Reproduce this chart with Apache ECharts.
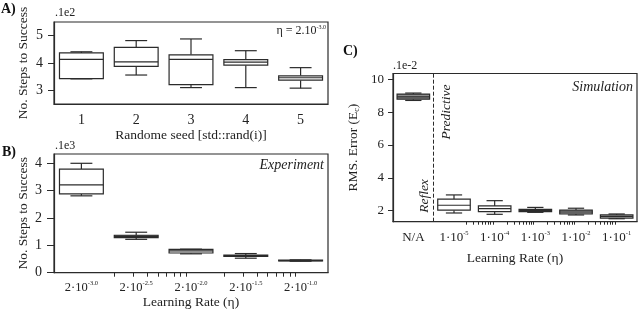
<!DOCTYPE html>
<html><head><meta charset="utf-8">
<script src="https://cdn.jsdelivr.net/npm/echarts@6/dist/echarts.min.js"></script>
<style>html,body{margin:0;padding:0;background:#fff}#c{width:640px;height:315px}</style>
</head><body><div id="c"></div>
<script>
// ---------- Panel A : random seed ----------
const seedLabels = ['1', '2', '3', '4', '5'];
const seedMin = [3.42, 3.56, 3.10, 3.10, 3.08];
const seedQ1  = [3.43, 3.88, 3.21, 3.92, 3.37];
const seedMed = [4.13, 4.04, 4.13, 4.03, 3.46];
const seedQ3  = [4.37, 4.57, 4.30, 4.12, 3.53];
const seedMax = [4.41, 4.82, 4.88, 4.45, 3.83];
const aYTicks = [3, 4, 5];
const aFill = ['#fff', '#fff', '#fff', '#fff', '#fff'];

// ---------- Panel B : experiment ----------
const expExponents = ['-3.0', '-2.5', '-2.0', '-1.5', '-1.0'];
const expMin = [2.81, 1.22, 0.69, 0.53, 0.42];
const expQ1  = [2.88, 1.28, 0.72, 0.60, 0.43];
const expMed = [3.21, 1.32, 0.80, 0.62, 0.44];
const expQ3  = [3.79, 1.37, 0.85, 0.64, 0.46];
const expMax = [4.00, 1.48, 0.86, 0.70, 0.47];
const bYTicks = [0, 1, 2, 3, 4];
const bMinorEta = [0.004, 0.006, 0.008, 0.010, 0.012, 0.014, 0.016, 0.018,
                   0.04, 0.06, 0.08, 0.10, 0.12, 0.14, 0.16, 0.18];
const bFirstEta = 0.002;
const bFill = ['#fff', '#444', '#f4f4f4', '#fff', '#fff'];

// ---------- Panel C : simulation ----------
const simLabels = ['N/A', '-5', '-4', '-3', '-2', '-1'];
const simMin = [8.71, 1.86, 1.78, 1.90, 1.74, 1.51];
const simQ1  = [8.79, 2.03, 1.94, 1.94, 1.80, 1.55];
const simMed = [8.93, 2.33, 2.12, 2.00, 1.92, 1.65];
const simQ3  = [9.10, 2.70, 2.29, 2.08, 2.04, 1.74];
const simMax = [9.16, 2.96, 2.61, 2.20, 2.15, 1.80];
const cYTicks = [2, 4, 6, 8, 10];
const cMinorDecades = [-5, -4, -3, -2];
const cMinorMult = [2, 3, 4, 5, 6, 7, 8, 9];
const cFill = ['#8c8c8c', '#fff', '#fff', '#d8d8d8', '#9a9a9a', '#d0d0d0'];

const FONT = 'Liberation Serif';
const FQ = '"Liberation Serif", serif';
const INK = '#222';
const LINE = '#2b2b2b';

function rows(mn, q1, md, q3, mx) {
  return mn.map((v, i) => [i, v, q1[i], md[i], q3[i], mx[i]]);
}

function boxRenderer(fills) {
  return function (params, api) {
    const i = api.value(0);
    const pMin = api.coord([i, api.value(1)]);
    const pQ1 = api.coord([i, api.value(2)]);
    const pMed = api.coord([i, api.value(3)]);
    const pQ3 = api.coord([i, api.value(4)]);
    const pMax = api.coord([i, api.value(5)]);
    const band = api.size([1, 0])[0];
    const bw = band * 0.8, cw = bw * 0.5;
    const x = pMed[0];
    const ls = { stroke: LINE, lineWidth: 1.2 };
    return {
      type: 'group', children: [
        { type: 'line', shape: { x1: x, y1: pMax[1], x2: x, y2: pQ3[1] }, style: ls },
        { type: 'line', shape: { x1: x, y1: pQ1[1], x2: x, y2: pMin[1] }, style: ls },
        { type: 'line', shape: { x1: x - cw / 2, y1: pMax[1], x2: x + cw / 2, y2: pMax[1] }, style: ls },
        { type: 'line', shape: { x1: x - cw / 2, y1: pMin[1], x2: x + cw / 2, y2: pMin[1] }, style: ls },
        { type: 'rect', shape: { x: x - bw / 2, y: pQ3[1], width: bw, height: pQ1[1] - pQ3[1] },
          style: { fill: fills[params.dataIndex], stroke: LINE, lineWidth: 1.2 } },
        { type: 'line', shape: { x1: x - bw / 2, y1: pMed[1], x2: x + bw / 2, y2: pMed[1] }, style: ls }
      ]
    };
  };
}

const axisLine = { show: true, lineStyle: { color: LINE, width: 1.2 } };
const nameStyle = { fontFamily: FONT, fontSize: 13.5, color: INK };
const numLabel = (size) => ({
  formatter: v => '{t|' + v + '}',
  rich: { t: { fontFamily: FONT, fontSize: size, color: INK } }
});

const bMinorPos = bMinorEta.map(v => Math.log10(v));
const bC0 = Math.log10(bFirstEta);
const cMinorPos = [];
cMinorDecades.forEach(d => cMinorMult.forEach(m => cMinorPos.push(d + Math.log10(m))));

const option = {
  animation: false,
  backgroundColor: '#fff',
  textStyle: { fontFamily: FONT, color: INK },
  grid: [
    { left: 54, top: 22, width: 274, height: 82, show: true, borderColor: LINE, borderWidth: 1.2 },
    { left: 54, top: 154, width: 274, height: 118.7, show: true, borderColor: LINE, borderWidth: 1.2 },
    { left: 393, top: 73.5, width: 244, height: 148.2, show: true, borderColor: LINE, borderWidth: 1.2 }
  ],
  xAxis: [
    { gridIndex: 0, type: 'category', data: seedLabels, position: 'bottom',
      axisLine, axisTick: { alignWithLabel: true, length: 6, lineStyle: { color: LINE } },
      axisLabel: Object.assign({ interval: 0, margin: 9 }, numLabel(14)),
      name: 'Randome seed [std::rand(i)]', nameLocation: 'middle', nameGap: 24, nameTextStyle: nameStyle },
    { gridIndex: 1, type: 'category', data: expExponents, position: 'bottom',
      axisLine, axisTick: { interval: 0, alignWithLabel: true, length: 6, lineStyle: { color: LINE } },
      axisLabel: { interval: 0, margin: 7, formatter: v => '{b|2·10}{s|' + v + '}',
        rich: { b: { fontFamily: FONT, fontSize: 12.5, color: INK, lineHeight: 16 },
                s: { fontFamily: FONT, fontSize: 6.5, color: INK, lineHeight: 8, verticalAlign: 'top' } } },
      name: 'Learning Rate (η)', nameLocation: 'middle', nameGap: 21, nameTextStyle: nameStyle },
    { gridIndex: 2, type: 'category', data: simLabels, position: 'bottom',
      axisLine, axisTick: { interval: 0, alignWithLabel: true, length: 5, lineStyle: { color: LINE } },
      axisLabel: { interval: 0, margin: 8, formatter: v => v === 'N/A' ? '{b|N/A}' : '{b|1·10}{s|' + v + '}',
        rich: { b: { fontFamily: FONT, fontSize: 13, color: INK, lineHeight: 16 },
                s: { fontFamily: FONT, fontSize: 6.5, color: INK, lineHeight: 8, verticalAlign: 'top' } } },
      name: 'Learning Rate (η)', nameLocation: 'middle', nameGap: 30, nameTextStyle: nameStyle },
    // minor tick overlays
    { gridIndex: 1, type: 'value', position: 'bottom', min: bC0 - 0.25, max: bC0 + 2.25,
      axisLine: { show: false }, splitLine: { show: false }, axisLabel: { show: false },
      axisTick: { show: true, customValues: bMinorPos, length: 4, lineStyle: { color: LINE } } },
    { gridIndex: 2, type: 'value', position: 'bottom', min: -6.5, max: -0.5,
      axisLine: { show: false }, splitLine: { show: false }, axisLabel: { show: false },
      axisTick: { show: true, customValues: cMinorPos, length: 3, lineStyle: { color: LINE } } }
  ],
  yAxis: [
    { gridIndex: 0, type: 'value', min: 2.5, max: 5.5, splitLine: { show: false },
      axisLine, axisTick: { show: true, length: 6, customValues: aYTicks, lineStyle: { color: LINE } },
      axisLabel: Object.assign({ customValues: aYTicks, margin: 11 }, numLabel(14)),
      name: 'No. Steps to Success', nameLocation: 'middle', nameGap: 24, nameTextStyle: nameStyle },
    { gridIndex: 1, type: 'value', min: 0, max: 4.34, splitLine: { show: false },
      axisLine, axisTick: { show: true, length: 7, customValues: bYTicks, lineStyle: { color: LINE } },
      axisLabel: Object.assign({ customValues: bYTicks, margin: 12 }, numLabel(14)),
      name: 'No. Steps to Success', nameLocation: 'middle', nameGap: 24, nameTextStyle: nameStyle },
    { gridIndex: 2, type: 'value', min: 1.33, max: 10.35, splitLine: { show: false },
      axisLine, axisTick: { show: true, length: 5, customValues: cYTicks, lineStyle: { color: LINE } },
      axisLabel: Object.assign({ customValues: cYTicks, margin: 9 }, numLabel(13)),
      name: '{n|RMS. Error (E}{sub|c}{n|)}', nameLocation: 'middle', nameGap: 32,
      nameTextStyle: { rich: {
        n: { fontFamily: FONT, fontSize: 13.5, color: INK, lineHeight: 16 },
        sub: { fontFamily: FONT, fontSize: 8, color: INK, lineHeight: 8, verticalAlign: 'bottom' } } } }
  ],
  series: [
    { type: 'custom', xAxisIndex: 0, yAxisIndex: 0, renderItem: boxRenderer(aFill),
      encode: { x: 0, y: [1, 2, 3, 4, 5] }, data: rows(seedMin, seedQ1, seedMed, seedQ3, seedMax) },
    { type: 'custom', xAxisIndex: 1, yAxisIndex: 1, renderItem: boxRenderer(bFill),
      encode: { x: 0, y: [1, 2, 3, 4, 5] }, data: rows(expMin, expQ1, expMed, expQ3, expMax) },
    { type: 'custom', xAxisIndex: 2, yAxisIndex: 2, renderItem: boxRenderer(cFill),
      encode: { x: 0, y: [1, 2, 3, 4, 5] }, data: rows(simMin, simQ1, simMed, simQ3, simMax) },
    { type: 'line', xAxisIndex: 4, yAxisIndex: 2, data: [], silent: true,
      markLine: { silent: true, symbol: 'none', label: { show: false },
        lineStyle: { color: LINE, type: [4, 2], width: 1 },
        data: [{ xAxis: -5.5 }] } }
  ],
  graphic: [
    { type: 'text', left: 1, top: 2, style: { text: 'A)', font: 'bold 14px ' + FQ, fill: '#111' } },
    { type: 'text', left: 55, top: 7, style: { text: '.1e2', font: '12px ' + FQ, fill: INK } },
    { type: 'text', x: 326, y: 31, style: { text: '{a|η = 2.10}{s|-3.0}', align: 'right', verticalAlign: 'middle',
        font: '12px ' + FQ,
        rich: { a: { font: '12px ' + FQ, fill: INK, lineHeight: 14 },
                s: { font: '6px ' + FQ, fill: INK, lineHeight: 7, verticalAlign: 'top' } } } },
    { type: 'text', left: 2, top: 145, style: { text: 'B)', font: 'bold 14px ' + FQ, fill: '#111' } },
    { type: 'text', left: 55, top: 140, style: { text: '.1e3', font: '12px ' + FQ, fill: INK } },
    { type: 'text', x: 324, y: 165, style: { text: 'Experiment', align: 'right', verticalAlign: 'middle',
        font: 'italic 14px ' + FQ, fill: INK } },
    { type: 'text', left: 343, top: 44, style: { text: 'C)', font: 'bold 14px ' + FQ, fill: '#111' } },
    { type: 'text', left: 393, top: 60, style: { text: '.1e-2', font: '12px ' + FQ, fill: INK } },
    { type: 'text', x: 633, y: 87, style: { text: 'Simulation', align: 'right', verticalAlign: 'middle',
        font: 'italic 14px ' + FQ, fill: INK } },
    { type: 'text', x: 446, y: 112, rotation: Math.PI / 2, style: { text: 'Predictive', align: 'center',
        verticalAlign: 'middle', font: 'italic 13.5px ' + FQ, fill: INK } },
    { type: 'text', x: 424, y: 196, rotation: Math.PI / 2, style: { text: 'Reflex', align: 'center',
        verticalAlign: 'middle', font: 'italic 13.5px ' + FQ, fill: INK } }
  ]
};

const chart = echarts.init(document.getElementById('c'), null, { renderer: 'canvas' });
chart.setOption(option);
</script>
</body></html>
